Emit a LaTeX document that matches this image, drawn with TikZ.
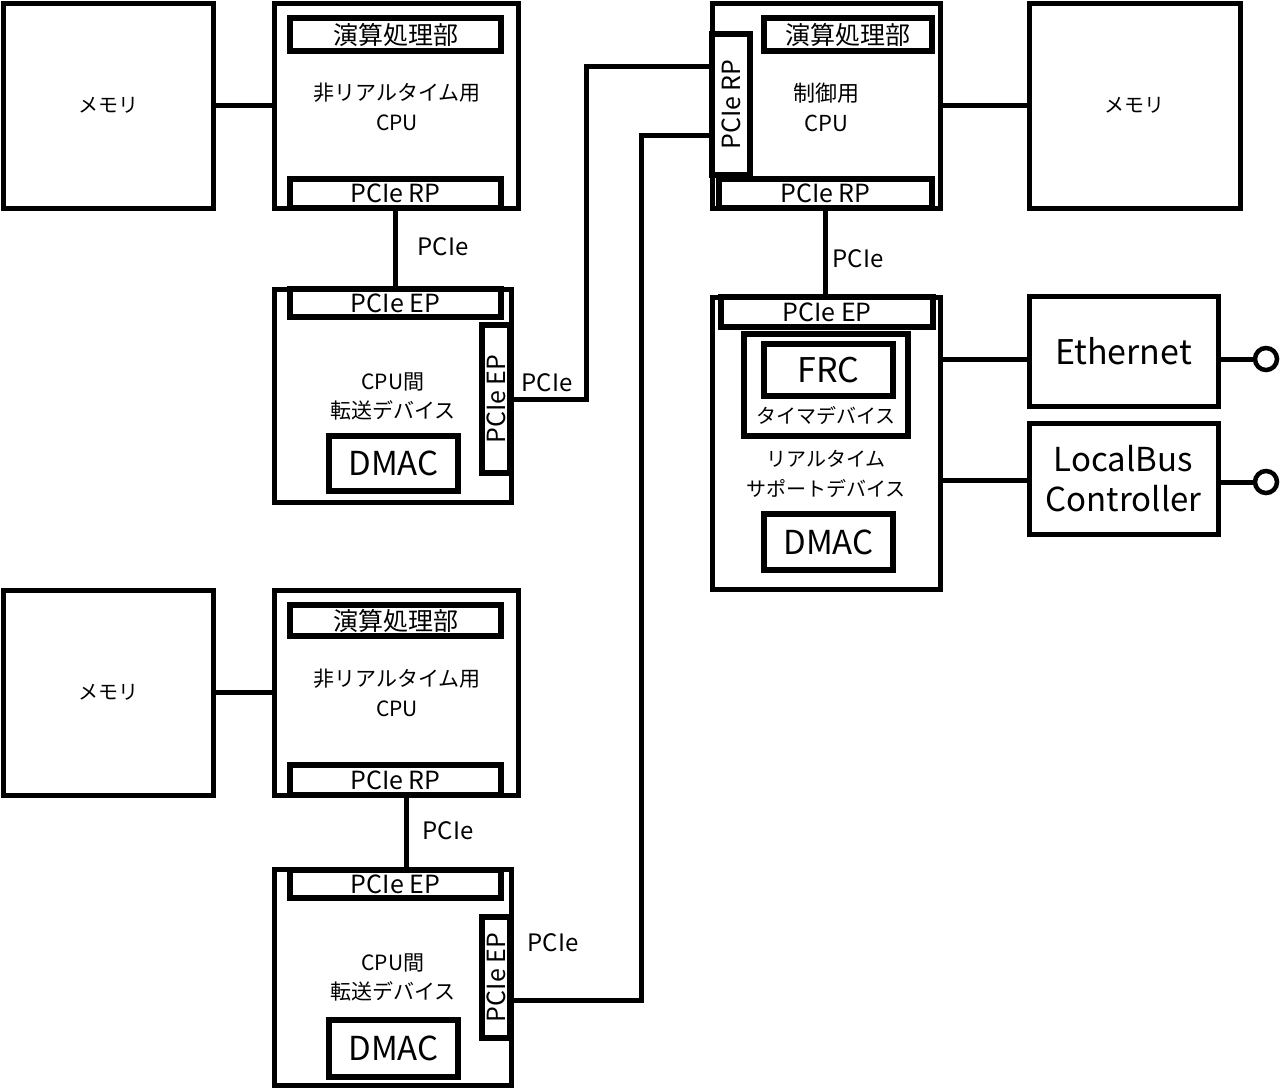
\documentclass[tikz,border=0pt]{standalone}
\usepackage{fontspec}
\setmainfont{Noto Sans CJK JP}
\usetikzlibrary{fit}
\newcommand\fsz[2]{\fontsize{#1}{#2}\selectfont}
\begin{document}
\begin{tikzpicture}[x=1pt,y=-1pt,
  obox/.style={draw, line width=5pt, inner sep=0pt, outer sep=0pt},
  ibox/.style={draw, line width=6pt, inner sep=0pt, outer sep=0pt},
  wire/.style={line width=5pt},
  lbl/.style={inner sep=0pt, align=center},
  term/.style={circle, draw, line width=4.5pt, fill=white, minimum size=22pt, inner sep=0pt}]
\fill[white] (0,0) rectangle (1284,1088);
\useasboundingbox (0,0) rectangle (1284,1088);

% ---------- top-left group ----------
\node[obox, fit={(3,3) (213,208)}] (mem1) {};
\node[lbl, font=\fsz{20}{24}] (mem1t) at (mem1.center) {メモリ};
\node[obox, fit={(274,3) (518,208)}] (cpu1) {};
\node[ibox, fit={(290,18) (501,51)}] (alu1) {};
\node[lbl, font=\fsz{25}{28}] (alu1t) at (alu1.center) {演算処理部};
\node[ibox, fit={(290,179) (501,208)}] (rp1) {};
\node[lbl, font=\fsz{25}{28}] (rp1t) at (rp1.center) {PCIe RP};
\node[lbl, font=\fsz{21}{30}] (cpu1t) at (397,107) {非リアルタイム用\\CPU};

\node[obox, fit={(274,289) (511,502)}] (dev1) {};
\node[ibox, fit={(290,289) (501,317)}] (ept1) {};
\node[lbl, font=\fsz{25}{28}] (ept1t) at (ept1.center) {PCIe EP};
\node[ibox, fit={(482,325) (510,473)}] (epv1) {};
\node[lbl, rotate=90, font=\fsz{25}{28}] (epv1t) at (epv1.center) {PCIe EP};
\node[lbl, font=\fsz{21}{29}] (dev1t) at (393,396) {CPU間\\転送デバイス};
\node[ibox, fit={(329,436) (458,491)}] (dmac1) {};
\node[lbl, font=\fsz{33}{36}] (dmac1t) at (dmac1.center) {DMAC};

% ---------- top-right group ----------
\node[obox, fit={(712,3) (940,208)}] (cpu2) {};
\node[ibox, fit={(712,34) (750,175)}] (rpv) {};
\node[lbl, rotate=90, font=\fsz{25}{28}] (rpvt) at (rpv.center) {PCIe RP};
\node[ibox, fit={(764,18) (932,51)}] (alu2) {};
\node[lbl, font=\fsz{25}{28}] (alu2t) at (alu2.center) {演算処理部};
\node[ibox, fit={(719,179) (932,208)}] (rp2) {};
\node[lbl, font=\fsz{25}{28}] (rp2t) at (rp2.center) {PCIe RP};
\node[lbl, font=\fsz{22}{30}] (cpu2t) at (826,107) {制御用\\CPU};
\node[obox, fit={(1029,3) (1240,208)}] (mem2) {};
\node[lbl, font=\fsz{20}{24}] (mem2t) at (mem2.center) {メモリ};

\node[obox, fit={(712,297) (940,589)}] (dev3) {};
\node[ibox, fit={(721,297) (933,327)}] (ept3) {};
\node[lbl, font=\fsz{25}{28}] (ept3t) at (ept3.center) {PCIe EP};
\node[ibox, fit={(744,334) (908,436)}] (timer) {};
\node[ibox, fit={(764,344) (893,396)}] (frc) {};
\node[lbl, font=\fsz{34}{36}] (frct) at (frc.center) {FRC};
\node[lbl, font=\fsz{20}{24}] (timert) at (826,416) {タイマデバイス};
\node[lbl, font=\fsz{20}{30}] (dev3t) at (826,474) {リアルタイム\\サポートデバイス};
\node[ibox, fit={(764,514) (893,570)}] (dmac3) {};
\node[lbl, font=\fsz{33}{36}] (dmac3t) at (dmac3.center) {DMAC};

\node[obox, fit={(1029,296) (1218,406)}] (eth) {};
\node[lbl, font=\fsz{34}{36}] (etht) at (eth.center) {Ethernet};
\node[obox, fit={(1029,423) (1218,534)}] (lbc) {};
\node[lbl, font=\fsz{33}{40}] (lbct) at (lbc.center) {LocalBus\\Controller};
\node[term] (c1) at (1266,359) {};
\node[term] (c2) at (1266,482) {};

% ---------- bottom group ----------
\node[obox, fit={(3,590) (213,795)}] (mem3) {};
\node[lbl, font=\fsz{20}{24}] (mem3t) at (mem3.center) {メモリ};
\node[obox, fit={(274,590) (518,795)}] (cpu3) {};
\node[ibox, fit={(290,605) (501,636)}] (alu3) {};
\node[lbl, font=\fsz{25}{28}] (alu3t) at (alu3.center) {演算処理部};
\node[ibox, fit={(290,765) (501,795)}] (rp3) {};
\node[lbl, font=\fsz{25}{28}] (rp3t) at (rp3.center) {PCIe RP};
\node[lbl, font=\fsz{21}{30}] (cpu3t) at (397,693) {非リアルタイム用\\CPU};

\node[obox, fit={(274,869) (511,1085)}] (dev4) {};
\node[ibox, fit={(290,870) (501,898)}] (ept4) {};
\node[lbl, font=\fsz{25}{28}] (ept4t) at (ept4.center) {PCIe EP};
\node[ibox, fit={(482,917) (510,1038)}] (epv4) {};
\node[lbl, rotate=90, font=\fsz{25}{28}] (epv4t) at (epv4.center) {PCIe EP};
\node[lbl, font=\fsz{21}{29}] (dev4t) at (393,977) {CPU間\\転送デバイス};
\node[ibox, fit={(329,1020) (458,1077)}] (dmac4) {};
\node[lbl, font=\fsz{33}{36}] (dmac4t) at (dmac4.center) {DMAC};

% ---------- connectors ----------
\coordinate (j1) at (586,66);
\coordinate (j2) at (641,135);
\coordinate (ey) at (0,359);
\coordinate (ly) at (0,480);
\coordinate (by) at (0,1000);
\coordinate (bx) at (406,0);

\draw[wire] (mem1.east) -- (cpu1.west);
\draw[wire] (rp1.south) -- (rp1.south |- ept1.north);
\draw[wire] (epv1.east) -| (j1) -- (rpv.west |- j1);
\draw[wire] (cpu2.east) -- (mem2.west);
\draw[wire] (rp2.south) -- (rp2.south |- ept3.north);
\draw[wire] (dev3.east |- ey) -- (eth.west |- ey);
\draw[wire] (dev3.east |- ly) -- (lbc.west |- ly);
\draw[wire] (eth.east |- c1) -- (c1.west);
\draw[wire] (lbc.east |- c2) -- (c2.west);
\draw[wire] (mem3.east) -- (cpu3.west);
\draw[wire] (bx |- rp3.south) -- (bx |- ept4.north);
\draw[wire] (epv4.east |- by) -| (j2) -- (rpv.west |- j2);

% ---------- connector labels ----------
\node[lbl, font=\fsz{24}{26}] (l1) at (443,247) {PCIe};
\node[lbl, font=\fsz{24}{26}] (l2) at (547,383) {PCIe};
\node[lbl, font=\fsz{24}{26}] (l3) at (858,259) {PCIe};
\node[lbl, font=\fsz{24}{26}] (l4) at (448,831) {PCIe};
\node[lbl, font=\fsz{24}{26}] (l5) at (553,943) {PCIe};
\end{tikzpicture}
\end{document}
